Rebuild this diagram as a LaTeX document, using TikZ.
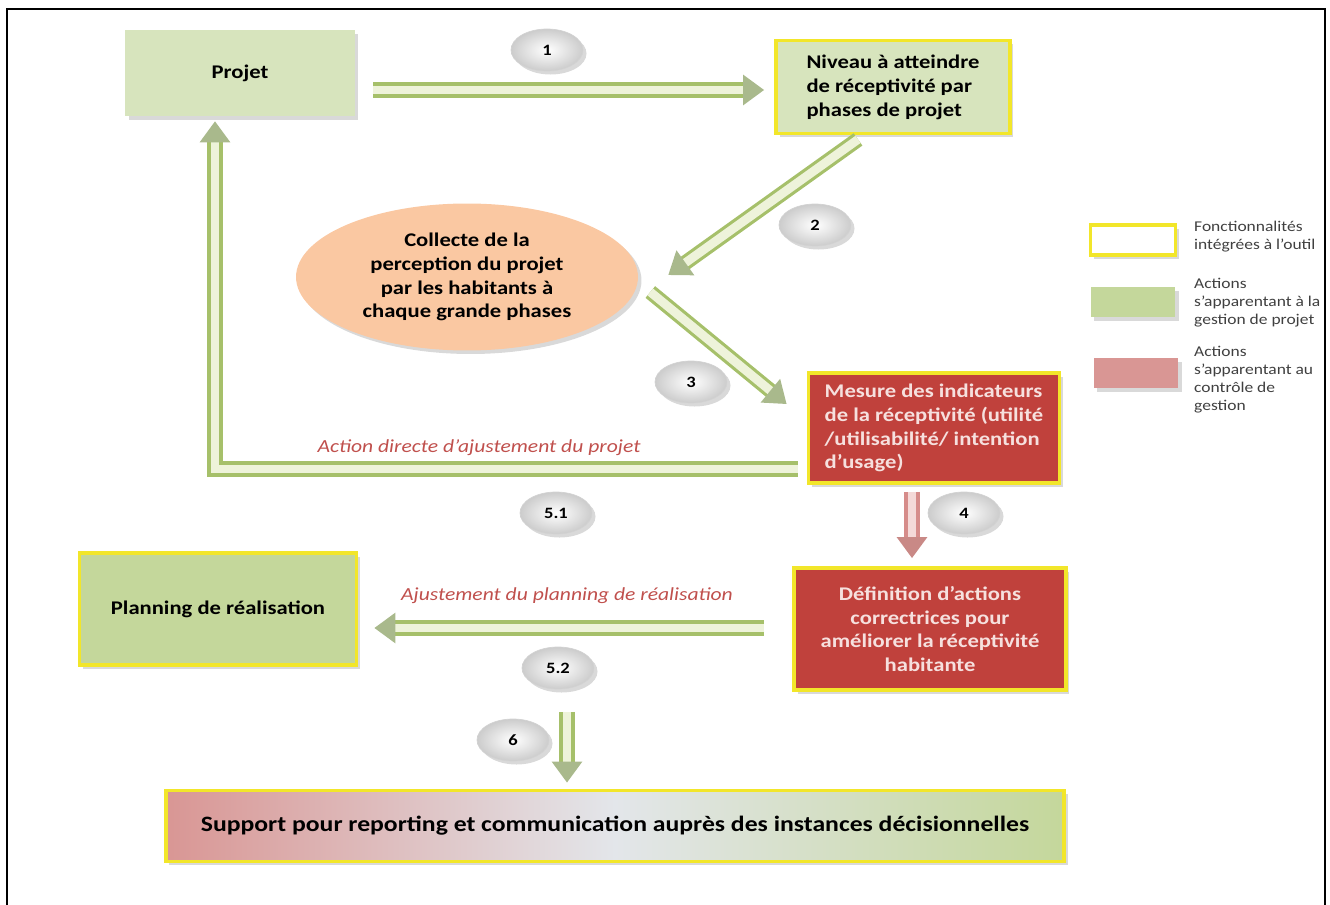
\documentclass[tikz,border=0pt]{standalone}
\usepackage{fontspec}
\setmainfont{Carlito}[FakeStretch=1.17]
\usepackage{xcolor}
\usepackage{tikz}
\usetikzlibrary{shapes.geometric,arrows.meta,calc,shadows}

\definecolor{projgreen}{HTML}{D7E4BD}
\definecolor{plangreen}{HTML}{C4D79B}
\definecolor{frameyellow}{HTML}{F2E62A}
\definecolor{boxred}{HTML}{C0413C}
\definecolor{boxredtext}{HTML}{F6E0DE}
\definecolor{peach}{HTML}{FAC8A2}
\definecolor{labelred}{HTML}{C0504D}
\definecolor{legendpink}{HTML}{D99694}
\definecolor{shaftlight}{HTML}{EEF3DA}
\definecolor{shaftdark}{HTML}{A6C06A}
\definecolor{headgreen}{HTML}{A9B98C}
\definecolor{shaftpink}{HTML}{F4D9D8}
\definecolor{shaftred}{HTML}{D68C8A}
\definecolor{headred}{HTML}{C98986}
\definecolor{legendtext}{HTML}{404040}
\definecolor{supportmid}{HTML}{E3E6EA}

\begin{document}
\begin{tikzpicture}[
  x=0.02cm, y=-0.02cm,
  font=\fontsize{11}{13.6}\selectfont\bfseries,
  softshadow/.style={drop shadow={shadow xshift=2pt,shadow yshift=-2pt,opacity=0.3}},
  greenbox/.style={fill=projgreen,softshadow,align=center},
  toolbox/.style={draw=frameyellow,line width=2.2pt},
  redbox/.style={toolbox,fill=boxred,text=boxredtext,softshadow},
  bubble/.style={ellipse,minimum width=1.44cm,minimum height=0.84cm,inner color=white,outer color=gray!40,draw=gray!35,softshadow,font=\fontsize{9}{11}\selectfont\bfseries},
  greenarrow/.style={draw=shaftdark,line width=1.8pt,double=shaftlight,double distance=5pt,-{Triangle[length=0.42cm,width=0.6cm,color=headgreen,fill=headgreen]}},
  pinkarrow/.style={draw=shaftred,line width=1.8pt,double=shaftpink,double distance=5pt,-{Triangle[length=0.42cm,width=0.6cm,color=headred,fill=headred]}},
  lbl/.style={text=labelred,font=\fontsize{10.5}{12}\selectfont\itshape\mdseries},
  legendbox/.style={minimum width=1.7cm,minimum height=0.6cm,softshadow},
  legendlbl/.style={anchor=west,align=left,text=legendtext,font=\fontsize{8.5}{10.2}\selectfont\mdseries},
]
\useasboundingbox (0,0) rectangle (1330,905);
\draw[line width=1.1pt] (7,905) -- (7,9) -- (1325,9) -- (1325,905);

\node[greenbox,minimum width=4.6cm,minimum height=1.72cm] (projet) at (240,73) {Projet};
\node[greenbox,toolbox,minimum width=4.68cm,minimum height=1.86cm,align=left] (niveau) at (893,87) {Niveau à atteindre\\de réceptivité par\\phases de projet};
\node[ellipse,fill=peach,softshadow,minimum width=6.84cm,minimum height=2.94cm,align=center] (collecte) at (467,277) {Collecte de la\\perception du projet\\par les habitants à\\chaque grande phases};
\node[redbox,minimum width=5.02cm,minimum height=2.2cm,align=left] (mesure) at (934,428) {Mesure des indicateurs\\de la réceptivité (utilité\\/utilisabilité/ intention\\d’usage)};
\node[redbox,minimum width=5.44cm,minimum height=2.44cm,align=center] (definition) at (930,629) {Définition d’actions\\correctrices pour\\améliorer la réceptivité\\habitante};
\node[greenbox,toolbox,fill=plangreen,minimum width=5.54cm,minimum height=2.24cm] (planning) at (218,609) {Planning de réalisation};
\node[toolbox,left color=legendpink,right color=plangreen,middle color=supportmid,softshadow,minimum width=17.98cm,minimum height=1.42cm,font=\fontsize{12.5}{15}\selectfont\bfseries] (support) at (615,826) {Support pour reporting et communication auprès des instances décisionnelles};

\node[bubble] (b1) at (547,50) {1};
\node[bubble] (b2) at (815,225) {2};
\node[bubble] (b3) at (691,382) {3};
\node[bubble] (b51) at (556,513) {5.1};
\node[bubble] (b4) at (964,513) {4};
\node[bubble] (b52) at (558,668) {5.2};
\node[bubble] (b6) at (513,740) {6};

\node[lbl] (lab51) at (479,448) {Action directe d’ajustement du projet};
\node[lbl] (lab52) at (567,596) {Ajustement du planning de réalisation};

\draw[greenarrow] ($(projet.east)+(18,17)$) -- ($(niveau.west)+(-10,3)$);
\draw[greenarrow] ($(niveau.south)+(-35,4)$) -- ($(collecte.east)+(30,-2)$);
\draw[greenarrow] ($(collecte.east)+(12,15)$) -- ($(mesure.west)+(-20,-24)$);
\draw[greenarrow] ($(mesure.west)+(-9,41)$) -| ($(projet.south)+(-25,5)$);
\draw[pinkarrow] ($(mesure.south)+(-22,7)$) -- ($(definition.north)+(-18,-8)$);
\draw[greenarrow] ($(definition.west)+(-28,-1)$) -- ($(planning.east)+(16,19)$);
\coordinate (top6) at (567,712);
\draw[greenarrow] (top6) -- ($(top6 |- support.north)+(0,-6)$);

\node[legendbox,toolbox,fill=white] (leg1) at (1133,240) {};
\node[legendbox,fill=plangreen] (leg2) at (1133,302) {};
\node[legendbox,fill=legendpink] (leg3) at (1136,373) {};
\node[legendlbl] (legt1) at (1188,237) {Fonctionnalités\\intégrées à l’outil};
\node[legendlbl] (legt2) at (1188,303) {Actions\\s’apparentant à la\\gestion de projet};
\node[legendlbl] (legt3) at (1188,380) {Actions\\s’apparentant au\\contrôle de\\gestion};
\end{tikzpicture}
\end{document}
